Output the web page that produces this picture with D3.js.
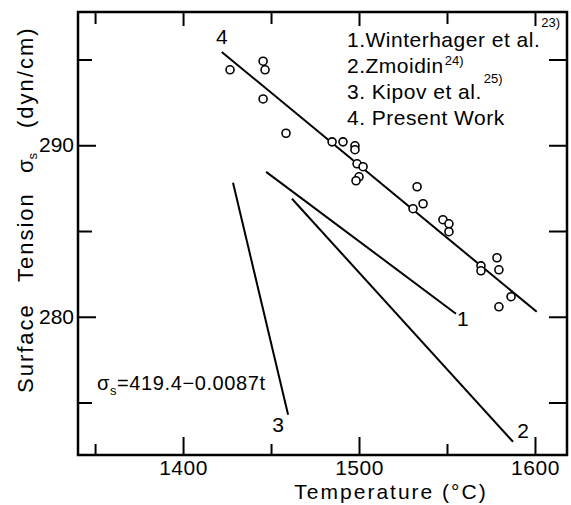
<!DOCTYPE html>
<html>
<head>
<meta charset="utf-8">
<script src="https://cdn.jsdelivr.net/npm/d3@7"></script>
<style>
  body { margin: 0; background: #fff; }
  svg text { font-family: "Liberation Sans", Arial, sans-serif; fill: #000; }
</style>
</head>
<body>
<div id="chart"></div>
<script>
// measured points (present work)
const tempPts = [1426.7, 1445.5, 1446.6, 1445.5, 1458.5, 1484.7, 1490.9, 1497.7, 1497.7, 1498.9,
                 1502.3, 1500.0, 1498.3, 1533.0, 1536.4, 1530.7, 1547.7, 1551.1, 1551.1, 1569.3,
                 1569.3, 1578.4, 1579.5, 1586.4, 1579.5];
const tensionPts = [294.4, 294.9, 294.4, 292.7, 290.7, 290.2, 290.2, 289.97, 289.74, 288.92,
                    288.75, 288.16, 287.93, 287.58, 286.59, 286.30, 285.66, 285.42, 284.96, 282.97,
                    282.68, 283.44, 282.74, 281.17, 280.58];

// literature lines 1..4
const lineIds = ["1", "2", "3", "4"];
const lineT0 = [1447.2, 1461.9, 1428.4, 1422.0];
const lineS0 = [288.45, 286.88, 287.81, 295.44];
const lineT1 = [1555.1, 1587.5, 1459.7, 1601.0];
const lineS1 = [280.18, 272.71, 274.29, 280.29];

const xMajor = [1400, 1500, 1600];
const xMinor = [1350, 1450, 1550];
const yMajor = [280, 290];
const yMinor = [275, 285, 295];

const legendText = ["1.Winterhager et al.", "2.Zmoidin", "3. Kipov et al.", "4. Present Work"];
const legendSup = ["23)", "24)", "25)", ""];

const W = 571, H = 505;
const svg = d3.select("#chart").append("svg").attr("width", W).attr("height", H);

const x = d3.scaleLinear().domain([1340.3, 1618.2]).range([78, 567]);
const y = d3.scaleLinear().domain([271.94, 297.77]).range([455, 12]);

const x0 = x.range()[0], x1 = x.range()[1], yb = y.range()[0], yt = y.range()[1];

function styleAxis(g) {
  g.select(".domain").remove();
  g.selectAll(".tick line").attr("stroke", "#000").attr("stroke-width", 2);
  g.selectAll(".tick text").attr("font-size", "21px").attr("font-family", "Liberation Sans, Arial, sans-serif");
}

// bottom axis
svg.append("g").attr("transform", `translate(0,${yb})`)
  .call(d3.axisBottom(x).tickValues(xMajor).tickSize(-18).tickPadding(5).tickFormat(d3.format("d")))
  .call(styleAxis)
  .call(g => g.selectAll(".tick text").attr("letter-spacing", "0.5px"));
svg.append("g").attr("transform", `translate(0,${yb})`)
  .call(d3.axisBottom(x).tickValues(xMinor).tickSize(-11).tickFormat(""))
  .call(styleAxis);
// top axis
svg.append("g").attr("transform", `translate(0,${yt})`)
  .call(d3.axisTop(x).tickValues(xMajor).tickSize(-14).tickFormat(""))
  .call(styleAxis);
svg.append("g").attr("transform", `translate(0,${yt})`)
  .call(d3.axisTop(x).tickValues(xMinor).tickSize(-12).tickFormat(""))
  .call(styleAxis);
// left axis
svg.append("g").attr("transform", `translate(${x0},0)`)
  .call(d3.axisLeft(y).tickValues(yMajor).tickSize(-18).tickPadding(4).tickFormat(d3.format("d")))
  .call(styleAxis);
svg.append("g").attr("transform", `translate(${x0},0)`)
  .call(d3.axisLeft(y).tickValues(yMinor).tickSize(-14).tickFormat(""))
  .call(styleAxis);
// right axis
svg.append("g").attr("transform", `translate(${x1},0)`)
  .call(d3.axisRight(y).tickValues(yMajor.concat(yMinor)).tickSize(-18).tickFormat(""))
  .call(styleAxis);

// frame
svg.append("rect")
  .attr("x", x0).attr("y", yt)
  .attr("width", x1 - x0).attr("height", yb - yt)
  .attr("fill", "none").attr("stroke", "#000").attr("stroke-width", 2.5);

// lines
const lines = lineIds.map((id, i) => ({ id, t0: lineT0[i], s0: lineS0[i], t1: lineT1[i], s1: lineS1[i] }));
svg.selectAll("line.lit")
  .data(lines)
  .enter().append("line")
  .attr("class", "lit")
  .attr("x1", d => x(d.t0)).attr("y1", d => y(d.s0))
  .attr("x2", d => x(d.t1)).attr("y2", d => y(d.s1))
  .attr("stroke", "#000").attr("stroke-width", 2);

// line number labels, offset from one end of each line
const labelOffset = {
  "1": { end: 1, dx: 7, dy: 12 },
  "2": { end: 1, dx: 10, dy: -4 },
  "3": { end: 1, dx: -10, dy: 17 },
  "4": { end: 0, dx: 0, dy: -8 }
};
svg.selectAll("text.lid")
  .data(lines)
  .enter().append("text")
  .attr("class", "lid")
  .attr("x", d => (labelOffset[d.id].end ? x(d.t1) : x(d.t0)) + labelOffset[d.id].dx)
  .attr("y", d => (labelOffset[d.id].end ? y(d.s1) : y(d.s0)) + labelOffset[d.id].dy)
  .attr("text-anchor", "middle")
  .attr("font-size", "21px")
  .text(d => d.id);

// points
const pts = tempPts.map((t, i) => ({ t, s: tensionPts[i] }));
svg.selectAll("circle")
  .data(pts)
  .enter().append("circle")
  .attr("cx", d => x(d.t)).attr("cy", d => y(d.s))
  .attr("r", 4)
  .attr("fill", "#fff").attr("stroke", "#000").attr("stroke-width", 1.6);

// legend
const supDy = [-20, -8, -16, 0];
const supDx = [1, 1, 2, 0];
legendText.forEach((txt, i) => {
  const t = svg.append("text")
    .attr("x", 347).attr("y", 47 + i * 26)
    .attr("font-size", "21px")
    .attr("letter-spacing", "0.5px");
  t.append("tspan").text(txt);
  if (legendSup[i]) {
    t.append("tspan").attr("dy", supDy[i]).attr("dx", supDx[i])
      .attr("font-size", "13px").attr("letter-spacing", "0px").text(legendSup[i]);
  }
});

// equation
const eq = svg.append("text").attr("x", 97).attr("y", 390).attr("font-size", "20px").attr("letter-spacing", "0.6px");
eq.append("tspan").text("σ");
eq.append("tspan").attr("dy", 5).attr("font-size", "13px").text("s");
eq.append("tspan").attr("dy", -5).text("=419.4−0.0087t");

// x title
svg.append("text")
  .attr("x", 391).attr("y", 499)
  .attr("text-anchor", "middle")
  .attr("font-size", "21px")
  .attr("letter-spacing", "2px")
  .text("Temperature (°C)");

// y title, pieces placed along the axis like the original
const yTitle = [
  { s: "Surface", at: 393 },
  { s: "Tension", at: 282 },
  { s: "(dyn/cm)", at: 128 }
];
yTitle.forEach(p => {
  svg.append("text")
    .attr("transform", `translate(33,${p.at}) rotate(-90)`)
    .attr("font-size", "22px")
    .attr("letter-spacing", "2px")
    .text(p.s);
});
const sig = svg.append("text")
  .attr("transform", "translate(33,173) rotate(-90)")
  .attr("font-size", "22px");
sig.append("tspan").text("σ");
sig.append("tspan").attr("dy", 4).attr("font-size", "13px").text("s");
</script>
</body>
</html>
